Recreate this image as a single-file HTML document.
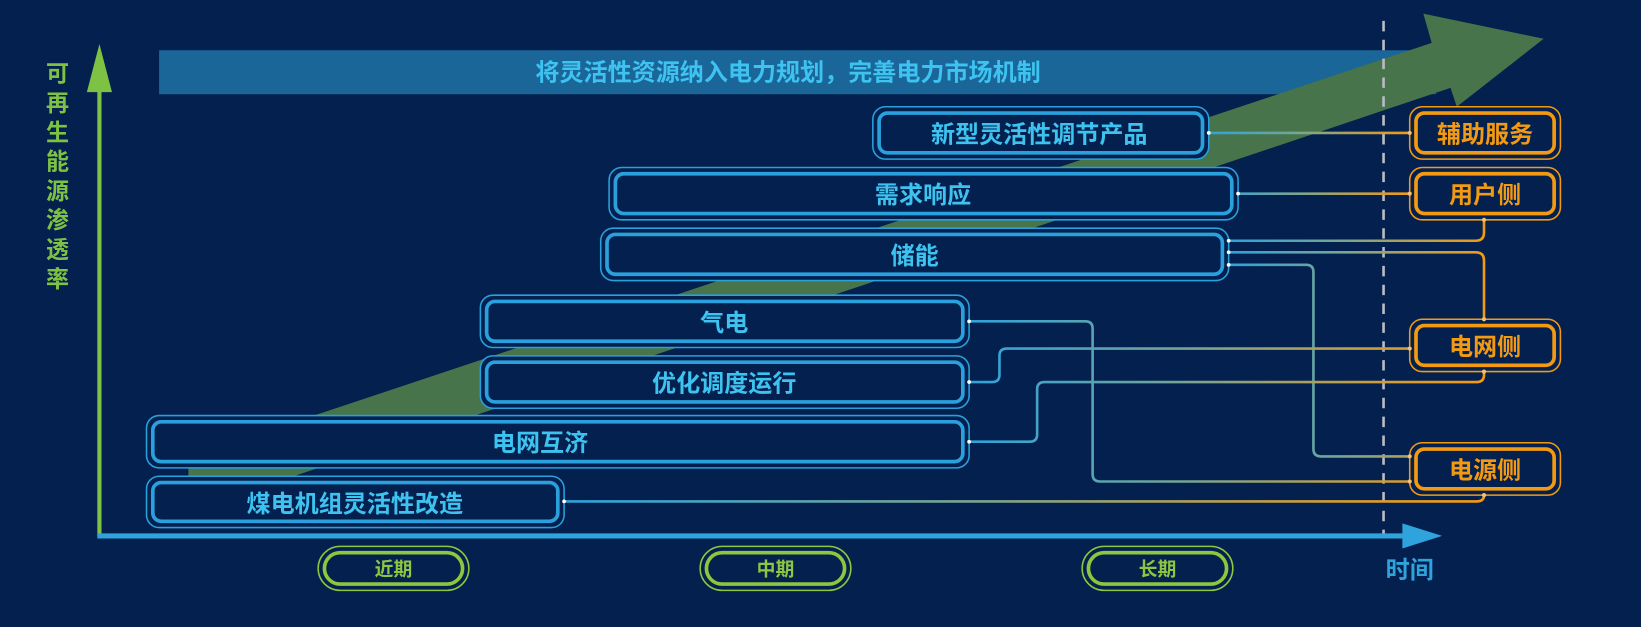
<!DOCTYPE html>
<html><head><meta charset="utf-8"><style>
html,body{margin:0;padding:0;background:#03204f;}
svg{display:block}
text{font-family:"Liberation Sans","Noto Sans CJK SC",sans-serif;font-weight:bold;}
</style></head><body>
<svg width="1641" height="627" viewBox="0 0 1568 599" preserveAspectRatio="none" xmlns="http://www.w3.org/2000/svg">
<defs>
<linearGradient id="g1" gradientUnits="userSpaceOnUse" x1="1155" y1="0" x2="1347" y2="0"><stop offset="0" stop-color="#2ea3dc"/><stop offset="0.45" stop-color="#7aa590"/><stop offset="1" stop-color="#f39a12"/></linearGradient>
<linearGradient id="g2" gradientUnits="userSpaceOnUse" x1="1174" y1="0" x2="1418" y2="0"><stop offset="0" stop-color="#2ea3dc"/><stop offset="0.45" stop-color="#7aa590"/><stop offset="1" stop-color="#f39a12"/></linearGradient>
<linearGradient id="g3" gradientUnits="userSpaceOnUse" x1="926" y1="0" x2="1400" y2="0"><stop offset="0" stop-color="#2ea3dc"/><stop offset="0.45" stop-color="#7aa590"/><stop offset="1" stop-color="#f39a12"/></linearGradient>
<linearGradient id="g4" gradientUnits="userSpaceOnUse" x1="539" y1="0" x2="1400" y2="0"><stop offset="0" stop-color="#2ea3dc"/><stop offset="0.45" stop-color="#7aa590"/><stop offset="1" stop-color="#f39a12"/></linearGradient>
</defs>
<rect width="1568" height="599" fill="#03204f"/>
<rect x="152" y="48" width="1220" height="42" fill="#1b6699"/>
<text x="753" y="77" font-size="23" fill="#3ec3f0" text-anchor="middle">将灵活性资源纳入电力规划，完善电力市场机制</text>
<polygon points="180,437 1368,41 1360,13 1475,37 1392,102 1386,84 200,482 180,470" fill="#47744a"/>
<line x1="1322" y1="20" x2="1322" y2="512" stroke="#b8bcc4" stroke-width="2.5" stroke-dasharray="10,8"/>
<line x1="95" y1="512" x2="95" y2="80" stroke="#7dc242" stroke-width="4"/>
<polygon points="95,42 83,88 107,88" fill="#7dc242"/>
<line x1="93" y1="512" x2="1345" y2="512" stroke="#2ea3dc" stroke-width="5"/>
<polygon points="1340,500 1378,512 1340,524" fill="#2ea3dc"/>
<text x="1347" y="552" font-size="23" fill="#2ea3dc" text-anchor="middle">时间</text>
<g font-size="22" fill="#7dc242" text-anchor="middle">
<text x="55" y="78">可</text><text x="55" y="106">再</text><text x="55" y="134">生</text><text x="55" y="162">能</text><text x="55" y="190">源</text><text x="55" y="218">渗</text><text x="55" y="246">透</text><text x="55" y="274">率</text>
</g>
<g fill="none" stroke-width="2.5">
<path stroke="url(#g1)" d="M1155,127 H1347"/>
<path stroke="url(#g1)" d="M1183,185 H1347"/>
<path stroke="url(#g2)" d="M1174,230 H1410 Q1418,230 1418,222 V208"/>
<path stroke="url(#g2)" d="M1174,241 H1410 Q1418,241 1418,249 V305"/>
<path stroke="url(#g2)" d="M1174,253 H1248 Q1255,253 1255,260 V429 Q1255,436 1262,436 H1347"/>
<path stroke="url(#g3)" d="M926,307 H1037 Q1044,307 1044,314 V453 Q1044,460 1051,460 H1347"/>
<path stroke="url(#g3)" d="M926,365 H948 Q955,365 955,358 V340 Q955,333 962,333 H1347"/>
<path stroke="url(#g3)" d="M926,422 H984 Q991,422 991,415 V372 Q991,365 998,365 H1411 Q1418,365 1418,358 V355"/>
<path stroke="url(#g4)" d="M539,479 H1411 Q1418,479 1418,473"/>
</g>
<g fill="#03204f" stroke="#2aa0dc">
<rect x="834" y="102" width="321" height="50" rx="12" stroke-width="1.5"/><rect x="840" y="108" width="309" height="38" rx="8" stroke-width="3.5"/>
<rect x="582" y="160" width="601" height="50" rx="12" stroke-width="1.5"/><rect x="588" y="166" width="589" height="38" rx="8" stroke-width="3.5"/>
<rect x="574" y="218" width="600" height="50" rx="12" stroke-width="1.5"/><rect x="580" y="224" width="588" height="38" rx="8" stroke-width="3.5"/>
<rect x="459" y="282" width="467" height="50" rx="12" stroke-width="1.5"/><rect x="465" y="288" width="455" height="38" rx="8" stroke-width="3.5"/>
<rect x="459" y="340" width="467" height="50" rx="12" stroke-width="1.5"/><rect x="465" y="346" width="455" height="38" rx="8" stroke-width="3.5"/>
<rect x="140" y="397" width="786" height="50" rx="12" stroke-width="1.5"/><rect x="146" y="403" width="774" height="38" rx="8" stroke-width="3.5"/>
<rect x="140" y="455" width="399" height="49" rx="12" stroke-width="1.5"/><rect x="146" y="461" width="387" height="37" rx="8" stroke-width="3.5"/>
</g>
<g font-size="23" fill="#3ec3f0" text-anchor="middle">
<text x="993" y="136">新型灵活性调节产品</text>
<text x="882" y="194">需求响应</text>
<text x="874" y="252">储能</text>
<text x="692" y="316">气电</text>
<text x="692" y="374">优化调度运行</text>
<text x="516" y="431">电网互济</text>
<text x="339" y="489">煤电机组灵活性改造</text>
</g>
<g fill="#03204f" stroke="#f39a12">
<rect x="1347" y="102" width="144" height="50" rx="12" stroke-width="1.5"/><rect x="1353" y="108" width="132" height="38" rx="8" stroke-width="3.5"/>
<rect x="1347" y="160" width="144" height="50" rx="12" stroke-width="1.5"/><rect x="1353" y="166" width="132" height="38" rx="8" stroke-width="3.5"/>
<rect x="1347" y="305" width="144" height="50" rx="12" stroke-width="1.5"/><rect x="1353" y="311" width="132" height="38" rx="8" stroke-width="3.5"/>
<rect x="1347" y="423" width="144" height="50" rx="12" stroke-width="1.5"/><rect x="1353" y="429" width="132" height="38" rx="8" stroke-width="3.5"/>
</g>
<g font-size="23" fill="#f39a12" text-anchor="middle">
<text x="1419" y="136">辅助服务</text>
<text x="1419" y="194">用户侧</text>
<text x="1419" y="339">电网侧</text>
<text x="1419" y="457">电源侧</text>
</g>
<g fill="#ffffff">
<circle cx="1155" cy="127" r="1.8"/><circle cx="1183" cy="185" r="1.8"/><circle cx="1174" cy="230" r="1.8"/><circle cx="1174" cy="241" r="1.8"/><circle cx="1174" cy="253" r="1.8"/><circle cx="926" cy="307" r="1.8"/><circle cx="926" cy="365" r="1.8"/><circle cx="926" cy="422" r="1.8"/><circle cx="539" cy="479" r="1.8"/>
</g>
<g fill="#f6c070">
<circle cx="1347" cy="127" r="2"/><circle cx="1347" cy="185" r="2"/><circle cx="1418" cy="210" r="2"/><circle cx="1418" cy="305" r="2"/><circle cx="1347" cy="333" r="2"/><circle cx="1418" cy="355" r="2"/><circle cx="1347" cy="436" r="2"/><circle cx="1347" cy="460" r="2"/><circle cx="1418" cy="473" r="2"/>
</g>
<g fill="none" stroke="#8dc63f">
<rect x="304" y="522" width="144" height="42" rx="21" stroke-width="1.5"/><rect x="310" y="528" width="132" height="30" rx="15" stroke-width="3.5"/>
<rect x="669" y="522" width="144" height="42" rx="21" stroke-width="1.5"/><rect x="675" y="528" width="132" height="30" rx="15" stroke-width="3.5"/>
<rect x="1034" y="522" width="144" height="42" rx="21" stroke-width="1.5"/><rect x="1040" y="528" width="132" height="30" rx="15" stroke-width="3.5"/>
</g>
<g font-size="18" fill="#8dc63f" text-anchor="middle">
<text x="376" y="550">近期</text><text x="741" y="550">中期</text><text x="1106" y="550">长期</text>
</g>
</svg>
</body></html>
